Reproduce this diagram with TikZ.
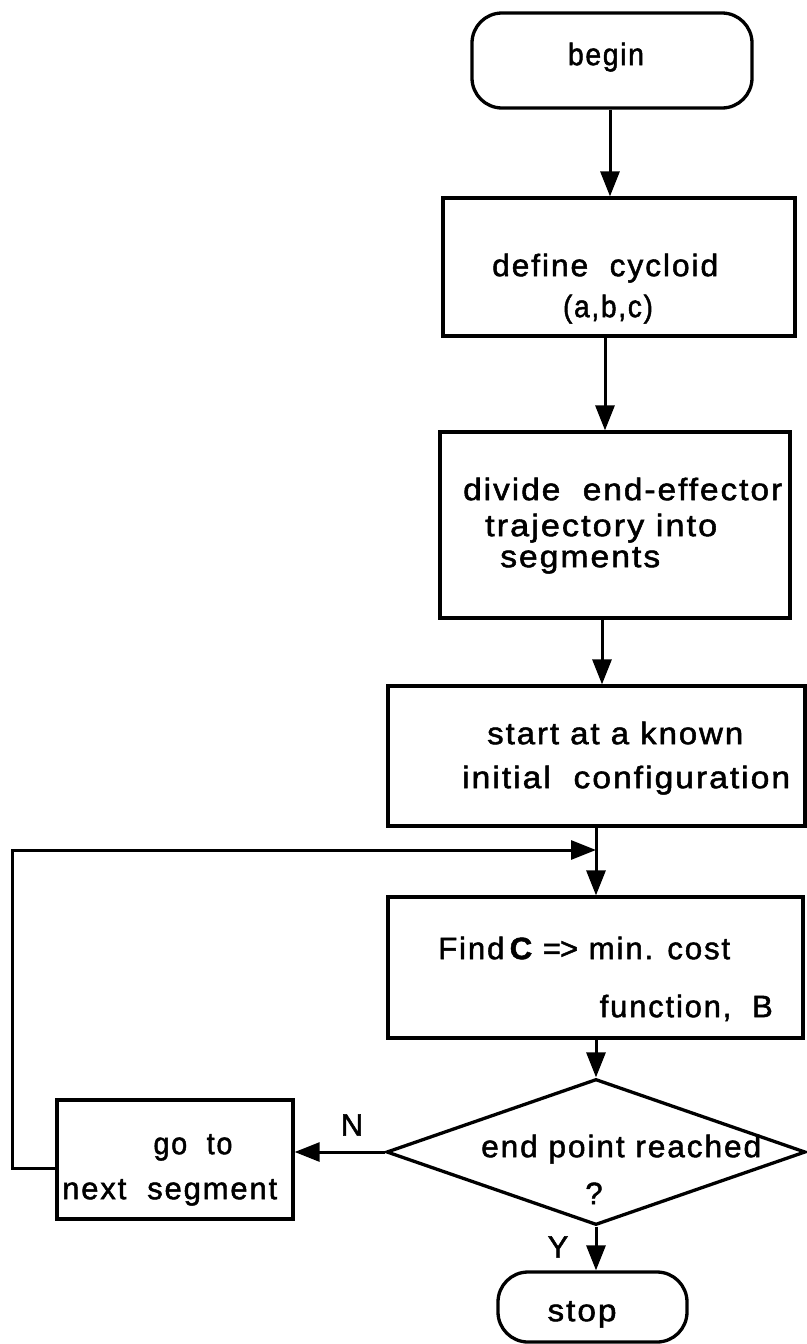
\documentclass[tikz,border=0pt]{standalone}
\usepackage{fontspec}
\usepackage{graphicx}
\usetikzlibrary{arrows.meta,shapes.geometric}
\newfontfamily\fnt[LetterSpace=6,FakeBold=1.6]{Liberation Sans}
\newlength\fitlen
\newcommand\fitto[2]{\settowidth\fitlen{#2}\scalebox{\fpeval{(#1)/(\the\fitlen)}}[1]{#2}}
\tikzset{
  blk/.style={draw, line width=3.3pt, rectangle, inner sep=0pt},
  term/.style={blk, rounded corners=30pt},
  dec/.style={draw, line width=3.3pt, diamond, inner sep=0pt},
  lbl/.style={inner sep=0pt, font=\fnt\fontsize{31}{36}\selectfont},
  arr/.style={line width=3pt, -{Triangle[length=25pt,width=19pt]}},
}
\begin{document}
\begin{tikzpicture}[x=1pt,y=-1pt]
\useasboundingbox (0,0) rectangle (806,1344);
% boxes
\node[term, minimum width=280pt, minimum height=95pt] (begin) at (612,60.5) {};
\node[blk, minimum width=352pt, minimum height=138pt] (define) at (619,267) {};
\node[blk, minimum width=350pt, minimum height=186pt] (divide) at (615,525) {};
\node[blk, minimum width=417pt, minimum height=140pt] (start) at (596.5,756) {};
\node[blk, minimum width=415pt, minimum height=141pt] (find) at (595.5,967.5) {};
\node[dec, minimum width=419pt, minimum height=146pt] (test) at (596,1152) {};
\node[blk, minimum width=236pt, minimum height=119pt] (goto) at (175,1159.5) {};
\node[term, minimum width=189pt, minimum height=70pt] (stop) at (592.5,1307) {};
% texts
\node[lbl, anchor=mid] (tbegin) at (606,63) {\fitto{76pt}{begin}};
\node[lbl, anchor=mid west] (tdef1) at (492,274) {\fitto{226pt}{define\ \ cycloid}};
\node[lbl, anchor=mid] (tdef2) at (608,315) {\fitto{90pt}{(a,b,c)}};
\node[lbl, anchor=mid west] (tdiv1) at (463,498) {\fitto{319pt}{divide\ \ end-effector}};
\node[lbl, anchor=mid west] (tdiv2) at (485,534) {\fitto{232pt}{trajectory into}};
\node[lbl, anchor=mid west] (tdiv3) at (500,565) {\fitto{160pt}{segments}};
\node[lbl, anchor=mid west] (tsta1) at (487,742) {\fitto{256pt}{start at a known}};
\node[lbl, anchor=mid west] (tsta2) at (462,786) {\fitto{328pt}{initial\ \ configuration}};
\node[lbl, anchor=mid west] (tfin1) at (438,957) {\fitto{292pt}{Find\,{\bfseries C} =\kern-1pt> min. cost}};
\node[lbl, anchor=mid east] (tfin2) at (773,1015) {\fitto{173pt}{function,\ \ B}};
\node[lbl, anchor=mid west] (ttest) at (481,1155) {\fitto{280pt}{end point reached}};
\node[lbl, anchor=mid] (tq) at (594,1202) {?};
\node[lbl, anchor=mid] (tgo1) at (193,1152) {\fitto{79pt}{go\ \ to}};
\node[lbl, anchor=mid west] (tgo2) at (62,1197) {\fitto{215pt}{next\ \ segment}};
\node[lbl, anchor=center] (tN) at (352,1125) {N};
\node[lbl, anchor=center] (tY) at (558,1247) {Y};
\node[lbl, anchor=mid] (tstop) at (582,1319) {\fitto{69pt}{stop}};
% connectors
\draw[arr] (begin.south -| 610,0) -- (define.north -| 610,0);
\draw[arr] (define.south -| 605,0) -- (divide.north -| 605,0);
\draw[arr] (divide.south -| 602,0) -- (start.north -| 602,0);
\draw[arr] (start.south -| 596,0) -- (find.north -| 596,0);
\draw[arr] (find.south -| test.north) -- (test.north);
\draw[arr] (test.south) -- (stop.north -| test.south);
\draw[arr] (test.west) -- (test.west -| goto.east);
\coordinate (join) at (596,850);
\coordinate (corner) at (12,850);
\draw[arr] (goto.west |- 0,1168) -| (corner) -- (join);
\end{tikzpicture}
\end{document}
